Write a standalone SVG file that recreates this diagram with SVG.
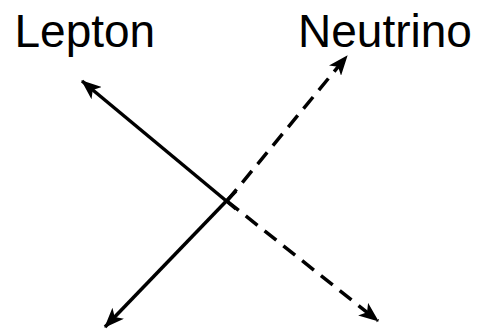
<svg xmlns="http://www.w3.org/2000/svg" width="477" height="330" viewBox="0 0 477 330">
<style>
.lbl{font-family:"Liberation Sans",Arial,sans-serif;font-size:46px;fill:#000}
.ln{stroke:#000;stroke-width:3.5;fill:none}
.dash{stroke-dasharray:15 9}
</style>
<defs>
<marker id="ah" markerUnits="userSpaceOnUse" viewBox="0 0 20 16" refX="19" refY="8" markerWidth="20" markerHeight="16" orient="auto">
<path d="M0,0 L20,8 L0,16 L5,8 Z" fill="#000"/>
</marker>
</defs>
<rect width="477" height="330" fill="#fff"/>
<g id="lepton"><text class="lbl" x="14.5" y="47">Lepton</text></g>
<g id="neutrino"><text class="lbl" x="298" y="47">Neutrino</text></g>
<g id="connectors">
<line class="ln" x1="236" y1="209" x2="82" y2="81" marker-end="url(#ah)"/>
<line class="ln" x1="236" y1="191" x2="105" y2="327" marker-end="url(#ah)"/>
<line class="ln dash" x1="227" y1="201" x2="347" y2="56" marker-end="url(#ah)"/>
<line class="ln dash" x1="227" y1="201" x2="378" y2="321" marker-end="url(#ah)"/>
</g>
</svg>
